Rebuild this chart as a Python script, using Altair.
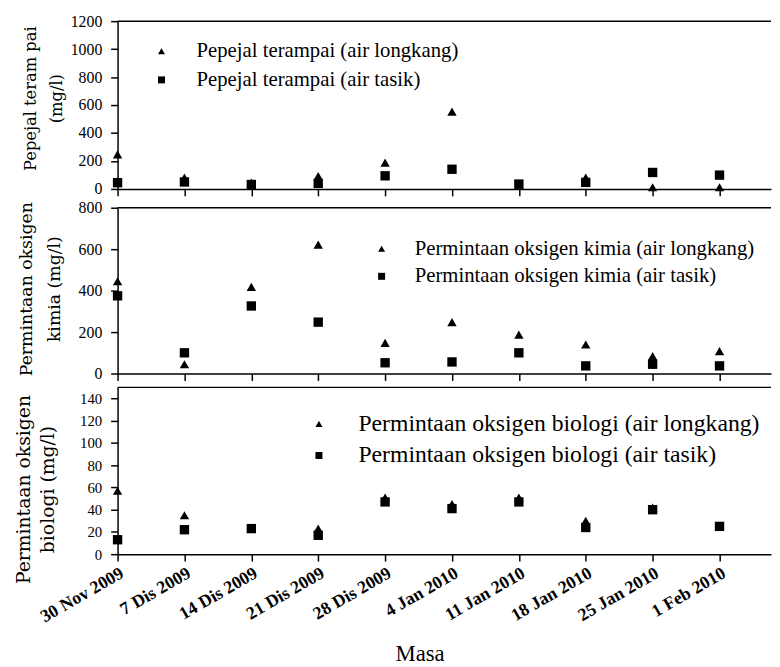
import altair as alt
import pandas as pd

# ---- data ----
dates = ["30 Nov 2009", "7 Dis 2009", "14 Dis 2009", "21 Dis 2009", "28 Dis 2009",
         "4 Jan 2010", "11 Jan 2010", "18 Jan 2010", "25 Jan 2010", "1 Feb 2010"]

tss_longkang = [247, 82, 45, 92, 188, 553, 30, 82, 12, 12]
tss_tasik = [45, 50, 32, 40, 94, 141, 35, 47, 118, 99]

cod_longkang = [445, 45, 418, 622, 148, 248, 188, 140, 84, 108]
cod_tasik = [375, 100, 326, 248, 52, 56, 100, 37, 45, 37]

bod_longkang = [57, 35, 23, 23, 51, 45, 51, 30, 42, 25]
bod_tasik = [13, 22, 23, 17, 47, 41, 47, 24, 40, 25]

tss_labels = ["Pepejal terampai (air longkang)", "Pepejal terampai (air tasik)"]
cod_labels = ["Permintaan oksigen kimia (air longkang)", "Permintaan oksigen kimia (air tasik)"]
bod_labels = ["Permintaan oksigen biologi (air longkang)", "Permintaan oksigen biologi (air tasik)"]

tss_title = ["Pepejal teram pai", "(mg/l)"]
cod_title = ["Permintaan oksigen", "kimia (mg/l)"]
bod_title = ["Permintaan oksigen", "biologi (mg/l)"]

tss_ticks = [0, 200, 400, 600, 800, 1000, 1200]
cod_ticks = [0, 200, 400, 600, 800]
bod_ticks = [0, 20, 40, 60, 80, 100, 120, 140]

x_title = "Masa"

PLOT_W = 662
X_DOMAIN = [0, 9.77]
label_expr = "[" + ",".join("'" + d + "'" for d in dates) + "][datum.value]"
SERIF = "Liberation Serif"
TITLE_FONT = "DejaVu Serif"


def panel(long_vals, tasik_vals, labels, ymax, yticks, height, ytitle,
          title_size, title_x, title_y, title_lh, tick_font,
          leg_x, leg_y, leg_font, leg_gap, leg_offset, bottom, gap_below=0):
    n = len(dates)
    df = pd.DataFrame({
        "idx": list(range(n)) * 2,
        "value": long_vals + tasik_vals,
        "series": [labels[0]] * n + [labels[1]] * n,
        "order": [0] * n + [1] * n,
    })
    if bottom:
        x_axis = alt.Axis(values=list(range(n)), labelExpr=label_expr, labelAngle=-30,
                          labelFont=SERIF, labelFontWeight="bold", labelFontSize=18,
                          labelColor="black", labelPadding=3, labelOverlap=False,
                          tickSize=7, tickColor="black", domainColor="black",
                          domainWidth=1.5, tickWidth=1.5, grid=False, title=x_title,
                          titleFont=SERIF, titleFontSize=23, titleFontWeight="normal",
                          titleColor="black", titleX=306, titleY=101,
                          titleBaseline="middle", titleAlign="center")
    elif gap_below:
        # blank title only reserves a little room under the panel
        x_axis = alt.Axis(values=list(range(n)), labels=False, tickSize=7,
                          tickColor="black", domainColor="black", domainWidth=1.5,
                          tickWidth=1.5, grid=False, title=" ", titleFontSize=gap_below,
                          titlePadding=1)
    else:
        x_axis = alt.Axis(values=list(range(n)), labels=False, tickSize=7,
                          tickColor="black", domainColor="black", domainWidth=1.5,
                          tickWidth=1.5, grid=False, title=None)
    y_axis = alt.Axis(values=yticks, format="d", grid=False, tickSize=7, tickColor="black",
                      tickWidth=1.5, domainColor="black", domainWidth=1.5,
                      labelFont=SERIF, labelFontSize=tick_font, labelColor="black",
                      labelPadding=9, labelOverlap=False, title=ytitle,
                      titleFont=TITLE_FONT, titleFontSize=title_size,
                      titleFontWeight="normal", titleColor="black",
                      titleX=title_x, titleY=title_y, titleAngle=270,
                      titleAlign="center", titleBaseline="bottom",
                      titleLineHeight=title_lh)
    points = alt.Chart(df).mark_point(filled=True, opacity=1, size=90, color="black").encode(
        x=alt.X("idx:Q", scale=alt.Scale(domain=X_DOMAIN, nice=False, zero=False), axis=x_axis),
        y=alt.Y("value:Q", scale=alt.Scale(domain=[0, ymax], nice=False), axis=y_axis),
        shape=alt.Shape("series:N",
                        scale=alt.Scale(domain=labels, range=["triangle-up", "square"]),
                        legend=alt.Legend(orient="none", legendX=leg_x, legendY=leg_y,
                                          title=None, labelFont=SERIF,
                                          labelFontSize=leg_font, labelColor="black",
                                          labelLimit=0, symbolSize=50,
                                          symbolFillColor="black", symbolStrokeWidth=0,
                                          labelOffset=leg_offset, rowPadding=leg_gap,
                                          padding=0)),
        order=alt.Order("order:Q"),
    )
    # top frame line of the panel (a style element, not data)
    top_line = alt.Chart(pd.DataFrame({"v": [0]})).mark_rule(
        color="black", strokeWidth=1.5).encode(
        x=alt.value(0), x2=alt.value(PLOT_W), y=alt.value(0))
    return alt.layer(points, top_line).properties(width=PLOT_W, height=height)


p1 = panel(tss_longkang, tss_tasik, tss_labels, 1200, tss_ticks, 170, tss_title,
           16.5, -80, 78, 26, 16, 34, 20, 21, 7, 25, False, gap_below=2)
p2 = panel(cod_longkang, cod_tasik, cod_labels, 800, cod_ticks, 168, cod_title,
           17.5, -83, 82, 28, 16, 257, 31, 21, 6, 23, False, gap_below=4)
p3 = panel(bod_longkang, bod_tasik, bod_labels, 150, bod_ticks, 169, bod_title,
           19, -85, 103, 24, 15, 192, 25, 24, 8, 28, True)

chart = alt.vconcat(p1, p2, p3, spacing=0).resolve_scale(
    shape="independent", y="independent"
).resolve_legend(shape="independent").properties(
    padding={"left": 7, "top": 1, "right": 0, "bottom": 0},
    background="white",
).configure_view(stroke=None)

chart.save("out.html", embed_options={"renderer": "svg", "actions": False})
